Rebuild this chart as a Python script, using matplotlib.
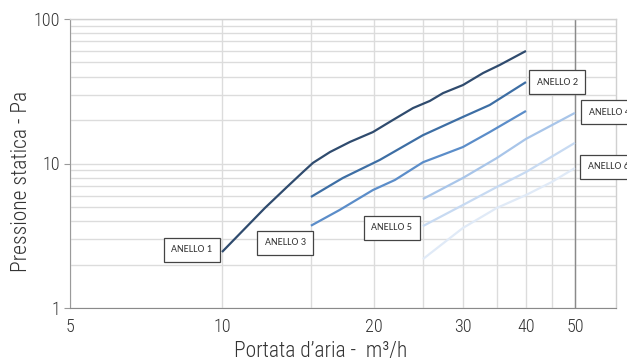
import matplotlib
matplotlib.use("Agg")
import matplotlib.pyplot as plt
from matplotlib.ticker import FixedLocator, NullFormatter, FixedFormatter, NullLocator

AXFONT = "Roboto Condensed"
LABFONT = "Carlito"

# ---- data ----
x1 = [10, 12.16, 13.45, 14.47, 15.14, 16.36, 17.92, 19.9, 21.8, 23.9, 25.8, 27.4, 30, 32.9, 35.5, 40]
y1 = [2.44, 4.92, 6.88, 8.74, 10.1, 12.0, 14.1, 16.5, 20.0, 24.2, 27.1, 30.7, 34.9, 42.3, 48.1, 60.1]
x2 = [15, 17.35, 20.55, 25, 30, 33.9, 40]
y2 = [5.87, 7.94, 10.6, 15.7, 21.0, 25.4, 36.6]
x3 = [15, 17.1, 19.9, 22, 25, 27.9, 30, 33.9, 40]
y3 = [3.71, 4.77, 6.55, 7.69, 10.2, 11.8, 13.0, 16.5, 23.1]
x4 = [25, 30, 35, 40, 50]
y4 = [5.68, 7.94, 10.9, 14.8, 22.4]
x5 = [25, 30, 35, 40, 50]
y5 = [3.69, 5.16, 6.87, 8.73, 13.9]
x6 = [25, 30, 35, 40, 45, 50]
y6 = [2.18, 3.58, 4.92, 6.05, 7.45, 9.3]
names_series = ["ANELLO 1", "ANELLO 2", "ANELLO 3", "ANELLO 4", "ANELLO 5", "ANELLO 6"]
colors = ["#2F4B6E", "#3D6EA4", "#5B8DC9", "#A8C5E9", "#C7DAF2", "#E0EAF7"]

x_grid = [5, 10, 15, 20, 25, 30, 35, 40, 45, 50]
x_labels = ["5", "10", "", "20", "", "30", "", "40", "", "50"]
y_ticks = [1, 10, 100]
y_labels = ["1", "10", "100"]

# label anchor positions (data coords)
lab_pos = {
    "ANELLO 1": (8.72, 2.52, "center"),
    "ANELLO 2": (46.1, 36.6, "center"),
    "ANELLO 3": (13.33, 2.82, "center"),
    "ANELLO 4": (53.3, 22.7, "left"),
    "ANELLO 5": (21.71, 3.58, "center"),
    "ANELLO 6": (53.0, 9.46, "left"),
}

fig = plt.figure(figsize=(6.27, 3.62), dpi=100)
ax = fig.add_axes([70/627, 1-308/362, (616-70)/627, (308-19)/362])
ax.set_xscale("log")
ax.set_yscale("log")
ax.set_xlim(5, 60.3)
ax.set_ylim(1, 100)

ax.xaxis.set_major_locator(FixedLocator(x_grid))
ax.xaxis.set_major_formatter(FixedFormatter(x_labels))
ax.xaxis.set_minor_locator(NullLocator())
ax.yaxis.set_major_locator(FixedLocator(y_ticks))
ax.yaxis.set_major_formatter(FixedFormatter(y_labels))
ax.yaxis.set_minor_locator(FixedLocator([m*d for d in (1, 10) for m in range(2, 10)]))
ax.yaxis.set_minor_formatter(NullFormatter())

ax.grid(True, which="major", color="#dcdcdc", lw=1.0)
ax.grid(True, which="minor", axis="y", color="#dcdcdc", lw=1.0)
ax.set_axisbelow(True)
ax.axvline(50, color="#8a8a8a", lw=1.0, zorder=1.5)

for s in ["top", "right"]:
    ax.spines[s].set_color("#d0d0d0")
    ax.spines[s].set_linewidth(1.0)
ax.spines["bottom"].set_color("#8a8a8a")
ax.spines["left"].set_color("#9a9a9a")

ax.tick_params(axis="x", which="both", length=0, pad=7, labelsize=13, labelcolor="#333333")
ax.tick_params(axis="y", which="major", length=4, color="#9a9a9a", pad=3, labelsize=13, labelcolor="#333333")
ax.tick_params(axis="y", which="minor", length=0)
for lab in ax.get_xticklabels() + ax.get_yticklabels():
    lab.set_family(AXFONT)
    lab.set_fontweight("light")

xs = [x1, x2, x3, x4, x5, x6]
ys = [y1, y2, y3, y4, y5, y6]
for xv, yv, c in zip(xs, ys, colors):
    ax.plot(xv, yv, color=c, lw=1.6, solid_capstyle="butt", solid_joinstyle="round", zorder=3)

for n in names_series:
    px, py, ha = lab_pos[n]
    ax.text(px, py, n, ha=ha, va="center", fontsize=7.5, family=LABFONT, color="#333333",
            bbox=dict(boxstyle="square,pad=0.75", fc="white", ec="#444444", lw=0.9),
            clip_on=False, zorder=5)

fig.text(22/627, 1-181/362, "Pressione statica - Pa", rotation=90, ha="center", va="center",
         fontsize=15.5, family=AXFONT, fontweight="light", color="#333333")
fig.text(321/627, 1-352/362, "Portata d\u2019aria -  m\u00b3/h", ha="center", va="center",
         fontsize=15.5, family=AXFONT, fontweight="light", color="#333333")

fig.savefig("out.png", dpi=100)
